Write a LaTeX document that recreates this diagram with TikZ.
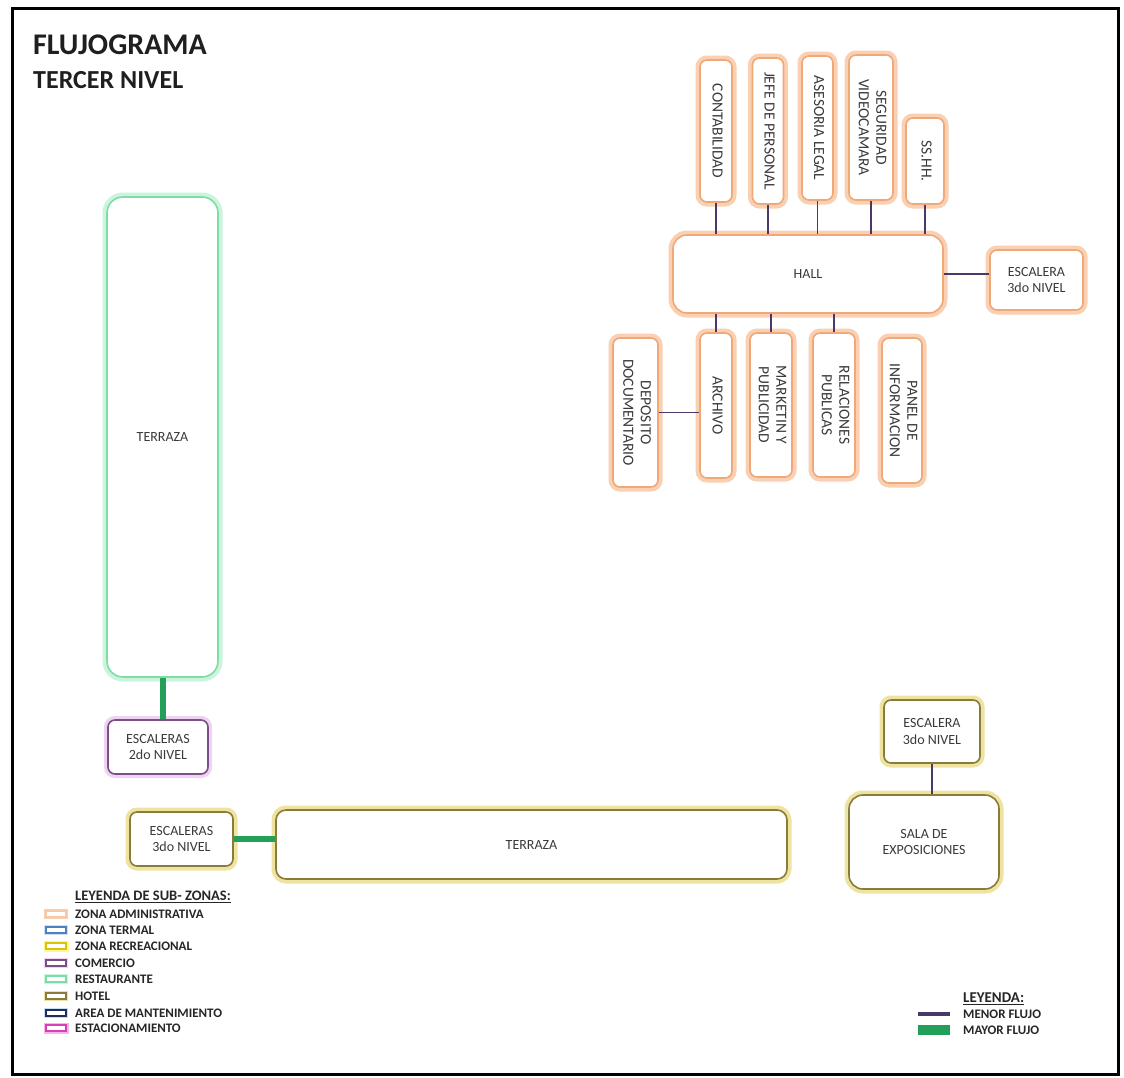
\documentclass[tikz,border=0pt]{standalone}
\usepackage{fontspec}
\setmainfont{Carlito}
\usepackage{graphicx}
\definecolor{admglow}{HTML}{FAD0B2}
\definecolor{admline}{HTML}{F0A878}
\definecolor{resglow}{HTML}{CBF4DC}
\definecolor{resline}{HTML}{7EDDA6}
\definecolor{comglow}{HTML}{F0D3F4}
\definecolor{comline}{HTML}{7A4F86}
\definecolor{hotglow}{HTML}{EEE3A0}
\definecolor{hotline}{HTML}{8A7B3C}
\definecolor{termglow}{HTML}{CFE0F4}
\definecolor{termline}{HTML}{4F81BD}
\definecolor{recglow}{HTML}{FFF59A}
\definecolor{recline}{HTML}{D8C400}
\definecolor{manglow}{HTML}{C9DDF5}
\definecolor{manline}{HTML}{1F2D5A}
\definecolor{estglow}{HTML}{F7B6E8}
\definecolor{estline}{HTML}{D63FB5}
\definecolor{conn}{HTML}{4A3868}
\definecolor{flow}{HTML}{22A05A}
\definecolor{txt}{HTML}{3A3A3A}
\tikzset{
  box/.style={rectangle, rounded corners=7pt, fill=white, inner sep=0pt, align=center,
    text=txt, font=\fontsize{14}{16.5}\selectfont},
  adm/.style={box, draw=admline, line width=1.6pt, preaction={draw=admglow, line width=9pt}},
  res/.style={box, rounded corners=16pt, draw=resline, line width=1.6pt, preaction={draw=resglow, line width=9pt}},
  com/.style={box, draw=comline, line width=1.6pt, preaction={draw=comglow, line width=8pt}},
  hot/.style={box, draw=hotline, line width=1.6pt, preaction={draw=hotglow, line width=9pt}},
  menor/.style={draw=conn, line width=1.5pt},
  mayor/.style={draw=flow, line width=6pt},
  sw/.style={rectangle, minimum width=20pt, minimum height=6pt, inner sep=0pt, fill=white, line width=1.6pt},
  lt/.style={anchor=west, inner sep=0pt, font=\bfseries\fontsize{13}{15}\selectfont, text=black!85}
}
\newcommand{\vtxt}[1]{\rotatebox{-90}{\fontsize{15.5}{17.5}\selectfont\begin{tabular}{@{}c@{}}#1\end{tabular}}}
\begin{document}
\begin{tikzpicture}[x=1pt,y=-1pt]
\useasboundingbox (0,0) rectangle (1124,1077);
\fill[white] (0,0) rectangle (1124,1077);
\draw[line width=3pt] (12,8) rectangle (1118,1074);

% titles
\node[anchor=base west, inner sep=0pt, font=\bfseries\fontsize{30}{36}\selectfont, text=black!88] (t1) at (33,54) {FLUJOGRAMA};
\node[anchor=base west, inner sep=0pt, font=\bfseries\fontsize{26}{30}\selectfont, text=black!88] (t2) at (33,88) {TERCER NIVEL};

% left column
\node[res, minimum width=111pt, minimum height=480pt] (terr1) at (162.5,437) {TERRAZA};
\node[com, minimum width=100pt, minimum height=54pt] (esc2) at (158,747) {ESCALERAS\\2do NIVEL};
\node[hot, minimum width=103pt, minimum height=54pt] (esc3L) at (181.5,839) {ESCALERAS\\3do NIVEL};
\node[hot, rounded corners=10pt, minimum width=511pt, minimum height=69pt] (terr2) at (531.5,844.5) {TERRAZA};
\node[hot, minimum width=96pt, minimum height=63pt] (esc3R) at (932,731.5) {ESCALERA\\3do NIVEL};
\node[hot, rounded corners=14pt, minimum width=150pt, minimum height=94pt] (sala) at (924,842) {SALA DE\\EXPOSICIONES};

\draw[mayor] (terr1.south) -- (terr1.south |- esc2.north);
\draw[mayor] (esc3L.east) -- (esc3L.east -| terr2.west);
\draw[menor] (esc3R.south) -- (esc3R.south |- sala.north);

% administrative cluster
\node[adm, rounded corners=14pt, minimum width=270pt, minimum height=78pt] (hall) at (808,274) {HALL};
\node[adm, minimum width=93pt, minimum height=60pt] (escH) at (1036.5,280) {ESCALERA\\3do NIVEL};
\node[adm, minimum width=32pt, minimum height=142pt] (conta) at (716,131) {\vtxt{CONTABILIDAD}};
\node[adm, minimum width=31pt, minimum height=146pt] (jefe) at (768,131) {\vtxt{JEFE DE PERSONAL}};
\node[adm, minimum width=31pt, minimum height=144pt] (ases) at (817.5,128) {\vtxt{ASESORIA LEGAL}};
\node[adm, minimum width=44pt, minimum height=145pt] (segu) at (871,127.5) {\vtxt{SEGURIDAD\\VIDEOCAMARA}};
\node[adm, minimum width=38pt, minimum height=86pt] (sshh) at (925,161) {\vtxt{SS.HH.}};
\node[adm, minimum width=45pt, minimum height=149pt] (depo) at (635.5,412.5) {\vtxt{DEPOSITO\\DOCUMENTARIO}};
\node[adm, minimum width=32pt, minimum height=145pt] (arch) at (716,405.5) {\vtxt{ARCHIVO}};
\node[adm, minimum width=42pt, minimum height=144pt] (mark) at (771,405) {\vtxt{MARKETIN Y\\PUBLICIDAD}};
\node[adm, minimum width=42pt, minimum height=144pt] (rela) at (834,405) {\vtxt{RELACIONES\\PUBLICAS}};
\node[adm, minimum width=40pt, minimum height=145pt] (pane) at (902,410.5) {\vtxt{PANEL DE\\INFORMACION}};

\foreach \n in {conta,jefe,ases,segu,sshh}
  \draw[menor] (\n.south) -- (\n.south |- hall.north);
\foreach \n in {arch,mark,rela}
  \draw[menor] (\n.north |- hall.south) -- (\n.north);
\draw[menor] (hall.east) -- (hall.east -| escH.west);
\draw[menor] (depo.east) -- (depo.east -| arch.west);

% legend of sub-zones
\node[anchor=west, inner sep=0pt, font=\bfseries\fontsize{14.5}{16}\selectfont, text=black!85] (lg) at (75,897) {\underline{LEYENDA DE SUB- ZONAS:}};
\node[sw, draw=admglow!80!admline, preaction={draw=admglow, line width=4pt}] (s1) at (56,914) {};
\node[sw, draw=termline, preaction={draw=termglow, line width=4pt}] (s2) at (56,930) {};
\node[sw, draw=recline, preaction={draw=recglow, line width=5pt}] (s3) at (56,946) {};
\node[sw, draw=comline, preaction={draw=comglow, line width=4pt}] (s4) at (56,963) {};
\node[sw, draw=resline, preaction={draw=resglow, line width=4pt}] (s5) at (56,979) {};
\node[sw, draw=hotline, preaction={draw=hotglow, line width=4pt}] (s6) at (56,996) {};
\node[sw, draw=manline, preaction={draw=manglow, line width=4pt}] (s7) at (56,1013) {};
\node[sw, draw=estline, preaction={draw=estglow, line width=5pt}] (s8) at (56,1028) {};
\node[lt] (l1) at (75,914) {ZONA ADMINISTRATIVA};
\node[lt] (l2) at (75,930) {ZONA TERMAL};
\node[lt] (l3) at (75,946) {ZONA RECREACIONAL};
\node[lt] (l4) at (75,963) {COMERCIO};
\node[lt] (l5) at (75,979) {RESTAURANTE};
\node[lt] (l6) at (75,996) {HOTEL};
\node[lt] (l7) at (75,1013) {AREA DE MANTENIMIENTO};
\node[lt] (l8) at (75,1028) {ESTACIONAMIENTO};

% flow legend
\node[anchor=west, inner sep=0pt, font=\bfseries\fontsize{15}{17}\selectfont, text=black!85] (lg2) at (963,999) {\underline{LEYENDA:}};
\node[rectangle, fill=conn, minimum width=32pt, minimum height=4pt, inner sep=0pt] (ms) at (934,1014) {};
\node[rectangle, fill=flow, minimum width=32pt, minimum height=10pt, inner sep=0pt] (Ms) at (934,1030) {};
\node[lt] (ml) at (963,1014) {MENOR FLUJO};
\node[lt] (Ml) at (963,1030) {MAYOR FLUJO};
\end{tikzpicture}
\end{document}
